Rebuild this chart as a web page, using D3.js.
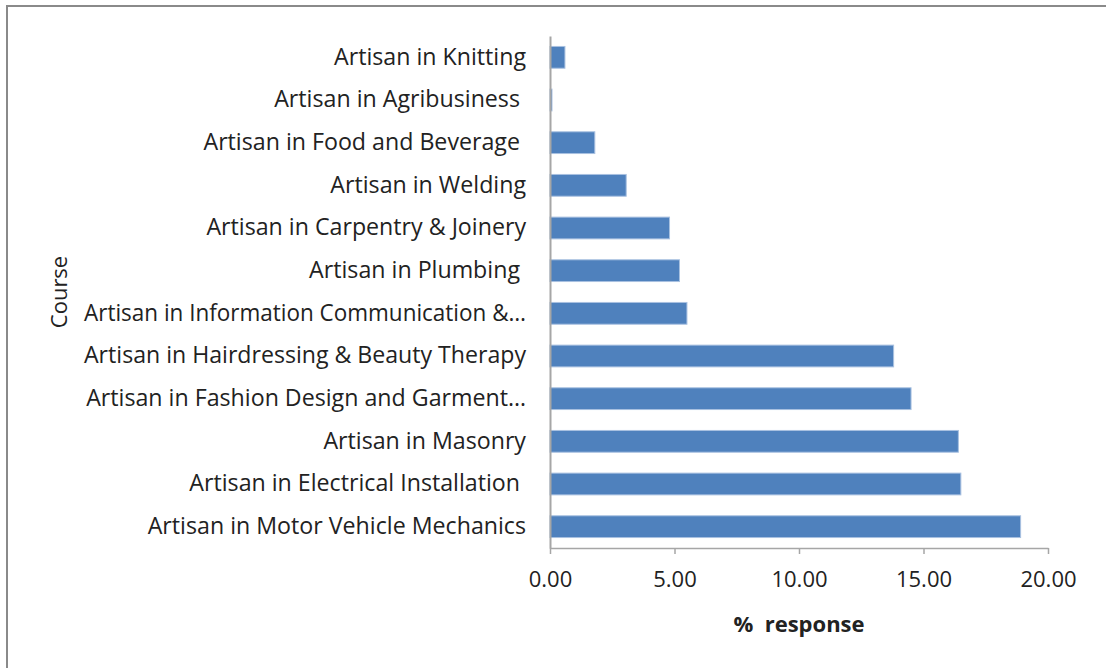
<!DOCTYPE html>
<html>
<head>
<meta charset="utf-8">
<script src="https://cdn.jsdelivr.net/npm/d3@7"></script>
<style>
  body { margin: 0; background: #fff; }
  svg text { font-family: "Open Sans", Lato, sans-serif; white-space: pre; }
</style>
</head>
<body>
<div id="chart"></div>
<script>
// categories top to bottom, as shown
const courses = [
  "Artisan in Knitting",
  "Artisan in Agribusiness ",
  "Artisan in Food and Beverage ",
  "Artisan in Welding",
  "Artisan in Carpentry & Joinery",
  "Artisan in Plumbing ",
  "Artisan in Information Communication &\u2026",
  "Artisan in Hairdressing & Beauty Therapy",
  "Artisan in Fashion Design and Garment\u2026",
  "Artisan in Masonry",
  "Artisan in Electrical Installation ",
  "Artisan in Motor Vehicle Mechanics"
];
const responses = [0.6, 0.08, 1.8, 3.06, 4.8, 5.2, 5.5, 13.8, 14.5, 16.4, 16.5, 18.9];
const xTicks = [0, 5, 10, 15, 20];

const width = 1106, height = 668;
const margin = { top: 36, left: 550, right: 58, bottom: 120 };
const fontSize = "22px";

const svg = d3.select("#chart").append("svg")
    .attr("width", width)
    .attr("height", height);

// 外框（只有上边和左边）
svg.append("path")
    .attr("d", `M7,${height} V6 H${width}`)
    .attr("fill", "none")
    .attr("stroke", "#8a8a8a")
    .attr("stroke-width", 2);

const x = d3.scaleLinear().domain([0, 20]).range([margin.left, width - margin.right]);
const y = d3.scaleBand().domain(courses).range([margin.top, height - margin.bottom]).paddingInner(0.49).paddingOuter(0.245);

const data = courses.map((c, i) => ({ course: c, value: responses[i] }));

svg.append("g").selectAll("rect")
    .data(data)
    .enter()
    .append("rect")
    .attr("x", x(0))
    .attr("y", d => y(d.course))
    .attr("width", d => x(d.value) - x(0))
    .attr("height", y.bandwidth())
    .attr("fill", "#4f81bd")
    .attr("stroke", "#a9c1e0")
    .attr("stroke-width", 1);

// x 轴
const xAxis = svg.append("g")
    .attr("transform", `translate(0,${height - margin.bottom})`)
    .call(d3.axisBottom(x).tickValues(xTicks).tickFormat(d3.format(".2f")).tickSize(6).tickSizeOuter(0).tickPadding(17));
xAxis.select(".domain").attr("stroke", "#a6a6a6").attr("stroke-width", 1.5);
xAxis.selectAll(".tick line").attr("stroke", "#a6a6a6").attr("stroke-width", 1.5);
xAxis.selectAll(".tick text")
    .style("font-size", fontSize)
    .attr("fill", "#222");

// y 轴
const yAxis = svg.append("g")
    .attr("transform", `translate(${margin.left},0)`)
    .call(d3.axisLeft(y).tickSize(0).tickPadding(24));
yAxis.select(".domain").attr("stroke", "#a6a6a6").attr("stroke-width", 2);
const maxLabelWidth = 442;
yAxis.selectAll(".tick text")
    .style("font-size", "23.2px")
    .attr("fill", "#222")
    .each(function() {
        // 太长的标签压缩到可用宽度
        const w = this.getComputedTextLength();
        if (w > maxLabelWidth) {
            d3.select(this).attr("textLength", maxLabelWidth).attr("lengthAdjust", "spacingAndGlyphs");
        }
    });

// 轴标题
svg.append("text")
    .attr("x", 799)
    .attr("y", 632)
    .attr("text-anchor", "middle")
    .style("font-size", fontSize)
    .style("font-weight", "bold")
    .attr("fill", "#222")
    .text("%  response");

svg.append("text")
    .attr("transform", "translate(67,292) rotate(-90)")
    .attr("text-anchor", "middle")
    .style("font-size", fontSize)
    .attr("fill", "#222")
    .text("Course");
</script>
</body>
</html>
